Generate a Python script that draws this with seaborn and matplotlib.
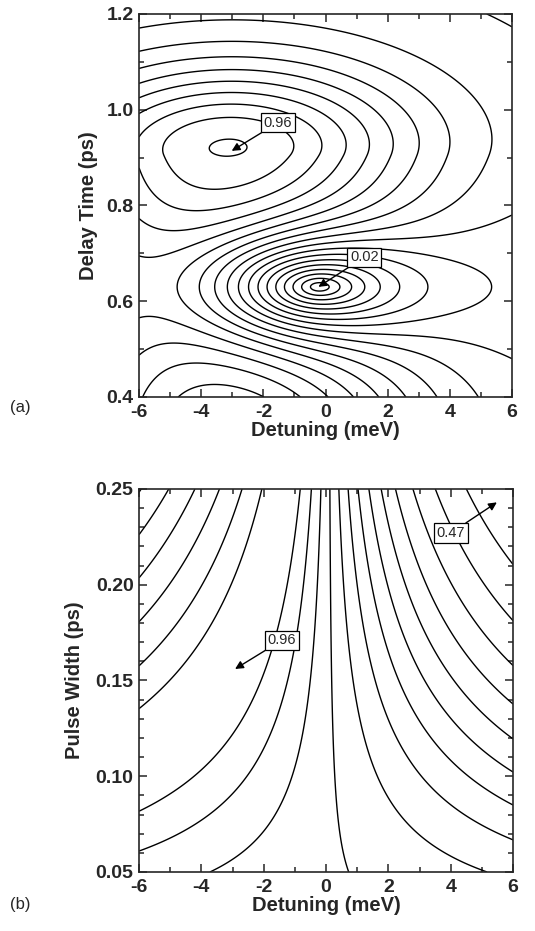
import numpy as np
import matplotlib
matplotlib.use("Agg")
import matplotlib.pyplot as plt
import seaborn as sns
from matplotlib.ticker import MultipleLocator, FormatStrFormatter

# ---- panel (a): detuning vs delay time ----
det_range = [-6.0, 6.0]
delay_range = [0.4, 1.2]
peak_a = [-3.0, 0.905]       # labelled maximum 0.96
hole_a = [-0.2, 0.63]        # labelled minimum 0.02
peak_value = 0.96
min_value = 0.02
base_a = 0.48                # level far from both features
peak_width_a = [4.2, 0.136]  # x / upward y spread of the maximum
hole_width_a = [5.0, 5.3, 0.15]  # left x, right x, y spread of the minimum
levels_a = [0.071, 0.123, 0.175, 0.227, 0.279, 0.331, 0.383, 0.435, 0.487,
            0.539, 0.591, 0.643, 0.695, 0.747, 0.799, 0.851, 0.903, 0.955]

# ---- panel (b): detuning vs pulse width ----
width_range = [0.05, 0.25]
ridge_b = -1.68              # ridge position (meV) at 0.25 ps
centre_b = 0.08
scale_power_b = 1.7
ridge_value_b = 0.96
left_slope_b = [0.065, 0.8]
right_drop_b = [0.565, 3.0]
levels_b = [0.505, 0.54, 0.575, 0.61, 0.645, 0.68, 0.715, 0.75, 0.785,
            0.82, 0.855, 0.89, 0.925]

# annotations: text, text position, arrow tip
notes_a = [("0.96", (-1.53, 0.973), (-3.02, 0.914)),
           ("0.02", (1.25, 0.692), (-0.23, 0.630))]
notes_b = [("0.96", (-1.42, 0.171), (-2.92, 0.156)),
           ("0.47", (4.0, 0.227), (5.48, 0.243))]

sns.set_theme(style="ticks")
plt.rcParams["font.family"] = ["Liberation Sans", "DejaVu Sans"]
plt.rcParams["axes.unicode_minus"] = False
plt.rcParams["xtick.direction"] = "in"
plt.rcParams["ytick.direction"] = "in"

# field for (a)
x = np.linspace(det_range[0], det_range[1], 361)
y = np.linspace(delay_range[0], delay_range[1], 361)
X, Y = np.meshgrid(x, y)
gx = np.exp(-(X - peak_a[0]) ** 2 / (2 * peak_width_a[0] ** 2))
gy = np.where(Y > peak_a[1], np.exp(-(Y - peak_a[1]) ** 2 / (2 * peak_width_a[1] ** 2)), 1.0)
sx = np.where(X < hole_a[0], hole_width_a[0], hole_width_a[1])
r = np.sqrt(((X - hole_a[0]) / sx) ** 2 + ((Y - hole_a[1]) / hole_width_a[2]) ** 2)
hole = np.tanh(r)


def field_a(amp):
    S = base_a + amp * gx * gy
    return min_value + (S - min_value) * hole


# pick the bump height so that the top of the field is the labelled 0.96
lo, hi = 0.2, 0.8
for _ in range(40):
    mid = 0.5 * (lo + hi)
    if field_a(mid)[Y > 0.8].max() > peak_value:
        hi = mid
    else:
        lo = mid
Za = field_a(lo)

# field for (b)
w = np.linspace(width_range[0], width_range[1], 361)
XB, WB = np.meshgrid(x, w)
u = (XB - centre_b) * (WB / width_range[1]) ** scale_power_b
d = u - ridge_b
left = ridge_value_b - left_slope_b[0] * np.abs(d) ** left_slope_b[1]
right = ridge_value_b - right_drop_b[0] * (1 - 1 / (1 + (d / right_drop_b[1]) ** 2))
Zb = np.where(d < 0, left, right)

fig = plt.figure(figsize=(5.35, 9.31), dpi=100)
ax_a = fig.add_axes([0.26, 0.5736, 0.697, 0.4114])
ax_b = fig.add_axes([0.26, 0.0634, 0.699, 0.4114])

ax_a.contour(X, Y, Za, levels=levels_a, colors="black", linewidths=1.0)
ax_b.contour(XB, WB, Zb, levels=levels_b, colors="black", linewidths=1.0)


def annotate(ax, notes):
    for txt, pos, tip in notes:
        ax.annotate(txt, xy=tip, xytext=pos, ha="center", va="center", fontsize=10.5,
                    bbox=dict(boxstyle="square,pad=0.18", fc="white", ec="black", lw=0.9),
                    arrowprops=dict(arrowstyle="-|>", color="black", lw=1.0,
                                    mutation_scale=12, shrinkA=0, shrinkB=0))


annotate(ax_a, notes_a)
annotate(ax_b, notes_b)

for ax in (ax_a, ax_b):
    ax.set_xlim(det_range)
    ax.xaxis.set_major_locator(MultipleLocator(2))
    ax.xaxis.set_minor_locator(MultipleLocator(1))
    ax.tick_params(which="both", top=True, right=True, width=1.1)
    ax.tick_params(which="major", length=6, labelsize=14)
    ax.tick_params(axis="x", which="major", pad=5)
    ax.tick_params(axis="y", which="major", pad=4)
    ax.tick_params(which="minor", length=3.5)
    for sp in ax.spines.values():
        sp.set_linewidth(1.2)
    ax.set_xlabel("Detuning (meV)", fontsize=14.5, fontweight="bold", labelpad=0)

ax_a.set_ylim(delay_range)
ax_a.yaxis.set_major_locator(MultipleLocator(0.2))
ax_a.yaxis.set_minor_locator(MultipleLocator(0.1))
ax_a.yaxis.set_major_formatter(FormatStrFormatter("%.1f"))
ax_a.set_ylabel("Delay Time (ps)", fontsize=14.5, fontweight="bold", labelpad=6)

ax_b.set_ylim(width_range)
ax_b.yaxis.set_major_locator(MultipleLocator(0.05))
ax_b.yaxis.set_minor_locator(MultipleLocator(0.01))
ax_b.yaxis.set_major_formatter(FormatStrFormatter("%.2f"))
ax_b.set_ylabel("Pulse Width (ps)", fontsize=14.5, fontweight="bold", labelpad=8)

for ax in (ax_a, ax_b):
    for lab in ax.get_xticklabels() + ax.get_yticklabels():
        lab.set_fontweight("bold")

fig.text(0.019, 0.562, "(a)", fontsize=12, va="center")
fig.text(0.019, 0.028, "(b)", fontsize=12, va="center")

fig.savefig("out.png", dpi=100, facecolor="white")
